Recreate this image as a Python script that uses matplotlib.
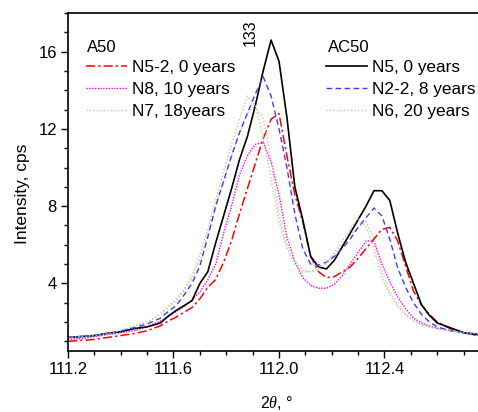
import matplotlib
matplotlib.use("Agg")
import matplotlib.pyplot as plt
from matplotlib.ticker import MultipleLocator, FixedLocator

plt.rcParams["font.family"] = ["Liberation Sans", "DejaVu Sans"]
plt.rcParams["mathtext.fontset"] = "custom"
plt.rcParams["mathtext.it"] = "Liberation Serif:italic"

# 2theta grid, degrees
two_theta = [111.20, 111.25, 111.30, 111.35, 111.40, 111.45, 111.50, 111.55,
             111.58, 111.61, 111.64, 111.67, 111.70, 111.73, 111.76, 111.79,
             111.82, 111.85, 111.88, 111.91, 111.94, 111.97, 112.00, 112.03,
             112.06, 112.09, 112.12, 112.15, 112.18, 112.21, 112.24, 112.27,
             112.30, 112.33, 112.36, 112.39, 112.42, 112.45, 112.48, 112.51,
             112.54, 112.57, 112.60, 112.65, 112.70, 112.75, 112.80]

# A50
n5_2 = [1.00, 1.05, 1.10, 1.20, 1.30, 1.40, 1.55, 1.80, 2.05, 2.25, 2.50, 2.75,
        3.20, 3.80, 4.20, 5.10, 6.20, 7.60, 8.90, 10.2, 11.5, 12.5, 12.8, 10.6,
        8.60, 7.20, 5.40, 4.60, 4.30, 4.35, 4.60, 4.85, 5.30, 5.80, 6.30, 6.80,
        6.90, 6.20, 4.90, 3.60, 2.90, 2.40, 2.00, 1.65, 1.45, 1.30, 1.25]
n8 = [1.10, 1.15, 1.25, 1.35, 1.45, 1.55, 1.75, 2.05, 2.30, 2.55, 2.80, 3.15,
      3.55, 4.20, 5.00, 6.60, 8.00, 9.60, 10.6, 11.2, 11.3, 10.3, 8.60, 6.40,
      5.10, 4.30, 3.90, 3.75, 3.75, 3.95, 4.40, 5.00, 5.60, 6.20, 6.20, 5.00,
      4.10, 3.30, 2.70, 2.20, 1.95, 1.80, 1.68, 1.55, 1.45, 1.40, 1.35]
n7 = [1.20, 1.25, 1.30, 1.40, 1.55, 1.80, 2.00, 2.40, 2.75, 3.10, 3.60, 4.20,
      5.20, 6.50, 7.90, 9.30, 10.6, 11.8, 12.8, 13.2, 12.5, 10.5, 7.60, 6.00,
      5.20, 4.70, 4.60, 4.75, 5.00, 5.50, 6.00, 6.50, 6.90, 7.20, 6.30, 4.60,
      3.60, 2.90, 2.40, 2.10, 1.85, 1.75, 1.65, 1.55, 1.45, 1.40, 1.35]

# AC50
n5 = [1.20, 1.25, 1.30, 1.42, 1.50, 1.66, 1.75, 1.95, 2.30, 2.60, 2.85, 3.10,
      4.00, 4.60, 6.10, 7.50, 8.90, 10.4, 11.6, 13.2, 15.0, 16.6, 15.5, 12.6,
      9.00, 7.30, 5.40, 4.85, 4.75, 5.20, 5.90, 6.60, 7.30, 8.00, 8.80, 8.80,
      8.30, 6.60, 5.10, 4.00, 2.90, 2.35, 1.95, 1.70, 1.45, 1.35, 1.30]
n2_2 = [1.20, 1.25, 1.30, 1.40, 1.55, 1.70, 1.90, 2.20, 2.55, 2.85, 3.40, 4.00,
        4.90, 6.40, 8.00, 9.30, 10.6, 11.8, 12.8, 13.8, 14.7, 13.7, 12.0, 10.0,
        7.60, 5.80, 5.00, 4.95, 5.10, 5.40, 5.80, 6.30, 6.90, 7.40, 7.90, 7.50,
        6.30, 4.80, 3.80, 3.00, 2.40, 2.00, 1.75, 1.55, 1.45, 1.40, 1.35]
n6 = [1.20, 1.25, 1.30, 1.40, 1.55, 1.80, 2.00, 2.40, 2.80, 3.20, 3.70, 4.40,
      5.50, 6.80, 8.30, 9.80, 11.2, 12.5, 13.7, 13.2, 11.6, 9.40, 7.20, 5.80,
      5.00, 4.60, 4.60, 4.80, 5.10, 5.60, 6.20, 6.80, 7.40, 6.90, 5.80, 4.30,
      3.40, 2.80, 2.35, 2.05, 1.85, 1.75, 1.65, 1.55, 1.45, 1.40, 1.35]

x_ticks = [111.2, 111.6, 112.0, 112.4]

fig = plt.figure(figsize=(4.78, 4.12), dpi=100)
ax = fig.add_axes([68 / 478, 61 / 412, 422 / 478, 338 / 412])

la, = ax.plot(two_theta, n5_2, color="#ff0000", lw=1.1, dashes=(6, 2, 1.5, 2))
lb, = ax.plot(two_theta, n8, color="#ff00ff", lw=1.0, dashes=(1, 1))
lc, = ax.plot(two_theta, n7, color="#f2b98a", lw=1.0, dashes=(1, 1.5))
ld, = ax.plot(two_theta, n5, color="black", lw=1.2)
le, = ax.plot(two_theta, n2_2, color="#3c3cff", lw=1.0, dashes=(4, 2.5))
lf, = ax.plot(two_theta, n6, color="#a8d4a0", lw=1.0, dashes=(1, 1.5))

ax.set_xlim(111.2, 112.8)
ax.set_ylim(0.5, 18)
ax.xaxis.set_major_locator(FixedLocator(x_ticks))
ax.xaxis.set_minor_locator(MultipleLocator(0.1))
ax.yaxis.set_major_locator(MultipleLocator(4))
ax.yaxis.set_minor_locator(MultipleLocator(1))
ax.tick_params(which="major", direction="out", length=5, width=1, labelsize=12, pad=3)
ax.tick_params(which="minor", direction="out", length=3, width=1)
ax.spines["right"].set_visible(False)
for s in ["left", "bottom", "top"]:
    ax.spines[s].set_linewidth(1.2)

ax.set_ylabel("Intensity, cps", fontsize=12.5)
ax.yaxis.set_label_coords(-0.09, 0.464)
ax.set_xlabel(r"2$\it{\theta}$, °", fontsize=11.5)
ax.xaxis.set_label_coords(0.495, -0.127)

ax.text(111.89, 17.0, "133", rotation=90, fontsize=11.5, ha="center", va="center")

# legend titles as plain text, legends without a title
fig.text(87 / 478, 1 - 48 / 412, "A50", fontsize=12, ha="left", va="center")
fig.text(328 / 478, 1 - 48 / 412, "AC50", fontsize=12, ha="left", va="center")

leg_kw = dict(loc="upper left", bbox_transform=fig.transFigure, frameon=False,
              fontsize=12.4, handlelength=2.4, handletextpad=0.3,
              labelspacing=0.4, borderpad=0, borderaxespad=0)
leg1 = ax.legend([la, lb, lc], ["N5-2, 0 years", "N8, 10 years", "N7, 18years"],
                 bbox_to_anchor=(86 / 478, 1 - 60 / 412), **leg_kw)
ax.add_artist(leg1)
ax.legend([ld, le, lf], ["N5, 0 years", "N2-2, 8 years", "N6, 20 years"],
          bbox_to_anchor=(326 / 478, 1 - 60 / 412), **leg_kw)

fig.savefig("out.png", dpi=100)
